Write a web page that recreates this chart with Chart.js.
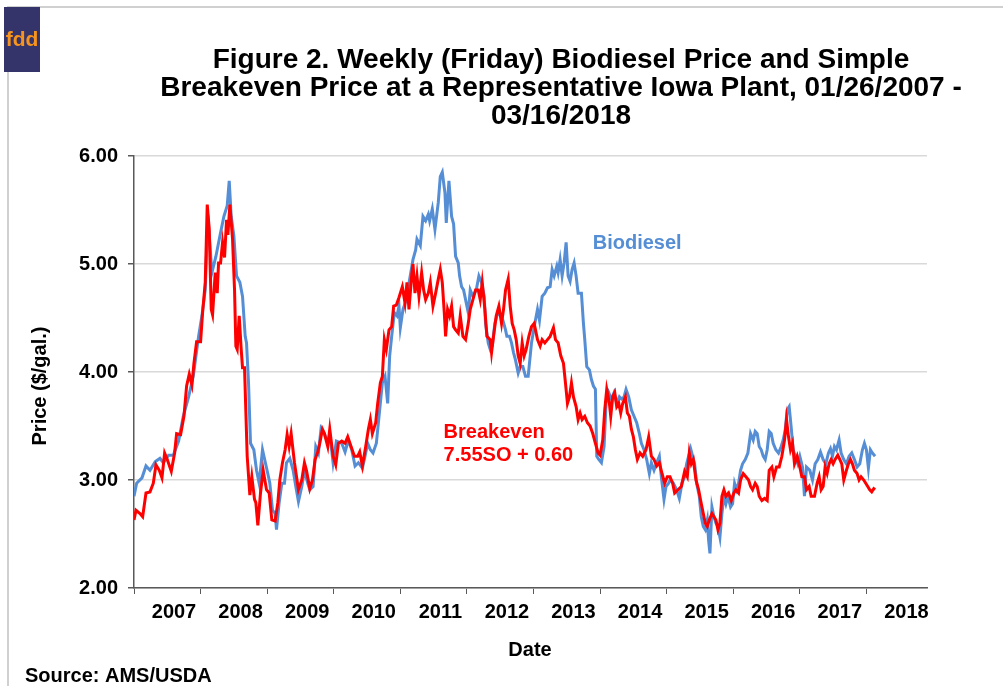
<!DOCTYPE html>
<html>
<head>
<meta charset="utf-8">
<script src="https://cdn.jsdelivr.net/npm/chart.js@4.4.1/dist/chart.umd.min.js"></script>
<style>
  html, body { margin: 0; padding: 0; background: #ffffff; }
  #wrap { width: 1003px; height: 686px; }
</style>
</head>
<body>
<div id="wrap"><canvas id="priceChart" width="1003" height="686"></canvas></div>
<script>
// Dates are decimal years (first obs 01/26/2007, last 03/16/2018)
const bioDates = [
  2007.07, 2007.11, 2007.19, 2007.25, 2007.31, 2007.39, 2007.46, 2007.51, 2007.59, 2007.66,
  2007.74, 2007.81, 2007.89, 2007.96, 2008.04, 2008.09, 2008.14, 2008.18, 2008.24, 2008.30,
  2008.36, 2008.42, 2008.47, 2008.50, 2008.53, 2008.57, 2008.61, 2008.66, 2008.70, 2008.74,
  2008.76, 2008.79, 2008.82, 2008.87, 2008.91, 2008.95, 2009.00, 2009.09, 2009.11, 2009.15,
  2009.19, 2009.21, 2009.25, 2009.29, 2009.33, 2009.36, 2009.41, 2009.46, 2009.50, 2009.54,
  2009.59, 2009.63, 2009.68, 2009.71, 2009.76, 2009.80, 2009.84, 2009.88, 2009.93, 2009.98,
  2010.01, 2010.06, 2010.11, 2010.19, 2010.24, 2010.29, 2010.34, 2010.39, 2010.44, 2010.50,
  2010.54, 2010.58, 2010.62, 2010.66, 2010.71, 2010.75, 2010.80, 2010.84, 2010.88, 2010.91,
  2010.94, 2010.98, 2011.02, 2011.05, 2011.07, 2011.11, 2011.16, 2011.21, 2011.26, 2011.30,
  2011.32, 2011.37, 2011.41, 2011.45, 2011.49, 2011.51, 2011.55, 2011.59, 2011.64, 2011.67,
  2011.70, 2011.74, 2011.76, 2011.80, 2011.84, 2011.87, 2011.90, 2011.94, 2011.96, 2011.99,
  2012.02, 2012.06, 2012.09, 2012.12, 2012.16, 2012.21, 2012.25, 2012.29, 2012.33, 2012.35,
  2012.39, 2012.42, 2012.45, 2012.49, 2012.52, 2012.56, 2012.61, 2012.65, 2012.67, 2012.71,
  2012.74, 2012.77, 2012.80, 2012.84, 2012.87, 2012.91, 2012.95, 2012.99, 2013.04, 2013.09,
  2013.13, 2013.16, 2013.20, 2013.24, 2013.28, 2013.32, 2013.35, 2013.38, 2013.42, 2013.44,
  2013.47, 2013.50, 2013.53, 2013.56, 2013.59, 2013.62, 2013.65, 2013.68, 2013.71, 2013.74,
  2013.79, 2013.82, 2013.84, 2013.87, 2013.91, 2013.94, 2013.97, 2014.00, 2014.02, 2014.05,
  2014.09, 2014.13, 2014.16, 2014.20, 2014.24, 2014.28, 2014.32, 2014.36, 2014.39, 2014.43,
  2014.46, 2014.50, 2014.54, 2014.58, 2014.62, 2014.66, 2014.69, 2014.73, 2014.77, 2014.81,
  2014.84, 2014.88, 2014.92, 2014.96, 2014.99, 2015.03, 2015.06, 2015.10, 2015.12, 2015.17,
  2015.22, 2015.26, 2015.30, 2015.34, 2015.37, 2015.40, 2015.43, 2015.46, 2015.49, 2015.52,
  2015.56, 2015.59, 2015.62, 2015.65, 2015.68, 2015.70, 2015.72, 2015.75, 2015.78, 2015.81,
  2015.84, 2015.87, 2015.90, 2015.93, 2015.96, 2015.99, 2016.03, 2016.06, 2016.09, 2016.12,
  2016.15, 2016.18, 2016.21, 2016.25, 2016.29, 2016.33, 2016.37, 2016.40, 2016.43, 2016.46,
  2016.49, 2016.52, 2016.55, 2016.58, 2016.61, 2016.64, 2016.67, 2016.71, 2016.75, 2016.79,
  2016.82, 2016.85, 2016.88, 2016.91, 2016.94, 2016.97, 2017.00, 2017.04, 2017.07, 2017.11,
  2017.14, 2017.17, 2017.22, 2017.26, 2017.30, 2017.34, 2017.38, 2017.42, 2017.46, 2017.50,
  2017.53, 2017.56, 2017.59, 2017.62, 2017.66, 2017.69, 2017.73, 2017.77, 2017.81, 2017.85,
  2017.89, 2017.93, 2017.97, 2018.01, 2018.04, 2018.07, 2018.10, 2018.13, 2018.16, 2018.20
];
const bioPrices = [
  2.85, 2.97, 3.02, 3.13, 3.09, 3.17, 3.20, 3.16, 3.23, 3.23,
  3.36, 3.59, 3.77, 3.96, 4.33, 4.52, 4.76, 5.45, 4.92, 5.07,
  5.26, 5.44, 5.54, 5.77, 5.44, 5.26, 4.89, 4.83, 4.70, 4.33,
  4.27, 3.90, 3.34, 3.28, 3.09, 2.97, 3.28, 3.03, 2.97, 2.72,
  2.69, 2.54, 2.79, 2.97, 2.97, 3.16, 3.20, 3.09, 2.94, 2.80,
  2.94, 3.09, 2.97, 2.91, 2.94, 3.31, 3.25, 3.48, 3.43, 3.34,
  3.43, 3.16, 3.36, 3.34, 3.26, 3.37, 3.28, 3.13, 3.16, 3.11,
  3.22, 3.34, 3.28, 3.25, 3.34, 3.59, 3.90, 3.96, 3.71, 4.15,
  4.33, 4.55, 4.52, 4.61, 4.41, 4.58, 4.67, 4.86, 5.04, 5.13,
  5.23, 5.17, 5.44, 5.40, 5.46, 5.40, 5.51, 5.32, 5.57, 5.81,
  5.85, 5.66, 5.38, 5.77, 5.44, 5.37, 5.07, 5.01, 4.89, 4.79,
  4.76, 4.64, 4.55, 4.76, 4.70, 4.76, 4.89, 4.83, 4.70, 4.45,
  4.27, 4.21, 4.24, 4.45, 4.52, 4.55, 4.48, 4.39, 4.33, 4.33,
  4.27, 4.18, 4.11, 3.99, 4.05, 4.05, 3.96, 3.96, 4.27, 4.45,
  4.58, 4.48, 4.70, 4.73, 4.78, 4.79, 4.95, 4.89, 4.98, 4.92,
  5.04, 4.89, 5.01, 5.20, 4.89, 4.84, 4.95, 5.01, 4.89, 4.73,
  4.73, 4.45, 4.30, 4.05, 4.02, 3.93, 3.87, 3.84, 3.22, 3.19,
  3.16, 3.31, 3.71, 3.81, 3.75, 3.81, 3.71, 3.77, 3.75, 3.77,
  3.84, 3.77, 3.65, 3.59, 3.53, 3.43, 3.34, 3.28, 3.19, 3.06,
  3.16, 3.09, 3.16, 3.22, 3.03, 2.82, 2.94, 2.97, 3.00, 2.97,
  2.91, 2.83, 2.97, 3.03, 3.15, 3.22, 3.29, 3.22, 3.15, 2.97,
  2.85, 2.66, 2.57, 2.54, 2.63, 2.44, 2.32, 2.75, 2.66, 2.60,
  2.57, 2.47, 2.69, 2.85, 2.78, 2.85, 2.75, 2.78, 2.97, 2.91,
  2.97, 3.09, 3.15, 3.19, 3.25, 3.43, 3.37, 3.45, 3.43, 3.31,
  3.28, 3.22, 3.19, 3.28, 3.45, 3.43, 3.34, 3.28, 3.25, 3.31,
  3.37, 3.46, 3.65, 3.68, 3.49, 3.28, 3.22, 3.15, 3.22, 3.12,
  2.85, 3.12, 3.09, 3.00, 3.15, 3.19, 3.26, 3.19, 3.15, 3.25,
  3.29, 3.22, 3.31, 3.28, 3.37, 3.25, 3.19, 3.15, 3.22, 3.25,
  3.19, 3.12, 3.15, 3.28, 3.34, 3.28, 3.11, 3.28, 3.25, 3.22
];
const bevDates = [
  2007.07, 2007.10, 2007.16, 2007.20, 2007.25, 2007.31, 2007.36, 2007.40, 2007.45, 2007.49,
  2007.53, 2007.57, 2007.63, 2007.68, 2007.71, 2007.77, 2007.82, 2007.86, 2007.90, 2007.94,
  2007.97, 2008.01, 2008.07, 2008.10, 2008.14, 2008.17, 2008.20, 2008.23, 2008.25, 2008.29,
  2008.32, 2008.34, 2008.37, 2008.40, 2008.43, 2008.46, 2008.48, 2008.51, 2008.55, 2008.58,
  2008.60, 2008.62, 2008.65, 2008.68, 2008.70, 2008.73, 2008.77, 2008.81, 2008.84, 2008.88,
  2008.90, 2008.93, 2008.97, 2009.01, 2009.06, 2009.10, 2009.14, 2009.19, 2009.23, 2009.26,
  2009.30, 2009.34, 2009.37, 2009.40, 2009.43, 2009.48, 2009.54, 2009.59, 2009.63, 2009.66,
  2009.71, 2009.75, 2009.79, 2009.83, 2009.86, 2009.90, 2009.93, 2009.98, 2010.01, 2010.06,
  2010.10, 2010.14, 2010.19, 2010.24, 2010.28, 2010.33, 2010.38, 2010.43, 2010.46, 2010.50,
  2010.55, 2010.59, 2010.62, 2010.65, 2010.70, 2010.73, 2010.77, 2010.80, 2010.83, 2010.86,
  2010.90, 2010.94, 2010.97, 2011.01, 2011.05, 2011.10, 2011.14, 2011.17, 2011.20, 2011.24,
  2011.26, 2011.29, 2011.32, 2011.35, 2011.39, 2011.42, 2011.45, 2011.49, 2011.52, 2011.56,
  2011.60, 2011.64, 2011.67, 2011.70, 2011.73, 2011.75, 2011.78, 2011.81, 2011.84, 2011.87,
  2011.90, 2011.94, 2011.97, 2012.01, 2012.05, 2012.09, 2012.12, 2012.16, 2012.20, 2012.24,
  2012.27, 2012.30, 2012.34, 2012.37, 2012.42, 2012.44, 2012.47, 2012.51, 2012.55, 2012.59,
  2012.62, 2012.65, 2012.69, 2012.72, 2012.75, 2012.78, 2012.81, 2012.84, 2012.87, 2012.90,
  2012.93, 2012.96, 2013.00, 2013.04, 2013.08, 2013.13, 2013.17, 2013.20, 2013.24, 2013.28,
  2013.32, 2013.37, 2013.40, 2013.44, 2013.48, 2013.52, 2013.55, 2013.58, 2013.61, 2013.64,
  2013.67, 2013.71, 2013.74, 2013.77, 2013.80, 2013.84, 2013.88, 2013.92, 2013.96, 2014.00,
  2014.04, 2014.07, 2014.11, 2014.14, 2014.17, 2014.21, 2014.23, 2014.26, 2014.29, 2014.32,
  2014.35, 2014.38, 2014.41, 2014.45, 2014.48, 2014.51, 2014.54, 2014.57, 2014.60, 2014.63,
  2014.67, 2014.71, 2014.76, 2014.80, 2014.84, 2014.88, 2014.92, 2014.96, 2015.00, 2015.04,
  2015.08, 2015.12, 2015.16, 2015.19, 2015.24, 2015.29, 2015.34, 2015.38, 2015.41, 2015.44,
  2015.47, 2015.51, 2015.55, 2015.59, 2015.62, 2015.65, 2015.68, 2015.71, 2015.75, 2015.78,
  2015.81, 2015.84, 2015.87, 2015.90, 2015.93, 2015.96, 2016.00, 2016.04, 2016.08, 2016.11,
  2016.15, 2016.18, 2016.22, 2016.26, 2016.30, 2016.33, 2016.36, 2016.40, 2016.43, 2016.46,
  2016.50, 2016.54, 2016.58, 2016.61, 2016.65, 2016.68, 2016.72, 2016.76, 2016.80, 2016.84,
  2016.87, 2016.90, 2016.93, 2016.96, 2016.99, 2017.03, 2017.07, 2017.10, 2017.14, 2017.17,
  2017.21, 2017.24, 2017.29, 2017.33, 2017.36, 2017.39, 2017.42, 2017.45, 2017.48, 2017.51,
  2017.54, 2017.57, 2017.60, 2017.64, 2017.67, 2017.70, 2017.73, 2017.77, 2017.80, 2017.83,
  2017.86, 2017.89, 2017.93, 2017.96, 2017.99, 2018.03, 2018.06, 2018.09, 2018.12, 2018.15,
  2018.18, 2018.20
];
const bevPrices = [
  2.63, 2.72, 2.69, 2.66, 2.88, 2.89, 2.97, 3.14, 3.09, 3.02,
  3.25, 3.19, 3.08, 3.25, 3.43, 3.42, 3.59, 3.87, 3.98, 3.88,
  4.08, 4.28, 4.28, 4.55, 4.83, 5.55, 5.32, 4.58, 4.53, 4.92,
  4.73, 5.01, 5.01, 5.20, 5.06, 5.41, 5.27, 5.55, 5.23, 4.76,
  4.24, 4.21, 4.52, 4.21, 4.04, 4.04, 3.22, 2.86, 3.03, 2.82,
  2.79, 2.58, 2.88, 3.09, 2.91, 2.88, 2.63, 2.62, 2.79, 3.00,
  3.16, 3.28, 3.42, 3.31, 3.43, 3.16, 2.91, 3.00, 3.16, 3.09,
  2.92, 3.00, 3.19, 3.26, 3.34, 3.47, 3.43, 3.31, 3.47, 3.22,
  3.14, 3.34, 3.36, 3.34, 3.40, 3.31, 3.22, 3.22, 3.26, 3.13,
  3.31, 3.47, 3.56, 3.43, 3.53, 3.71, 3.90, 3.96, 4.30, 4.21,
  4.39, 4.42, 4.61, 4.62, 4.69, 4.79, 4.64, 4.83, 4.58, 4.89,
  5.00, 4.73, 4.89, 4.70, 4.92, 4.76, 4.67, 4.73, 4.83, 4.61,
  4.73, 4.86, 4.95, 4.83, 4.55, 4.33, 4.58, 4.52, 4.61, 4.42,
  4.39, 4.36, 4.52, 4.33, 4.30, 4.45, 4.58, 4.67, 4.76, 4.76,
  4.67, 4.83, 4.58, 4.33, 4.30, 4.18, 4.33, 4.52, 4.61, 4.45,
  4.58, 4.76, 4.86, 4.61, 4.45, 4.39, 4.30, 4.15, 4.08, 4.27,
  4.15, 4.21, 4.33, 4.42, 4.45, 4.30, 4.24, 4.30, 4.27, 4.30,
  4.33, 4.41, 4.30, 4.27, 4.15, 4.08, 3.90, 3.71, 3.77, 3.90,
  3.77, 3.68, 3.56, 3.62, 3.56, 3.59, 3.53, 3.50, 3.43, 3.34,
  3.25, 3.23, 3.37, 3.65, 3.84, 3.71, 3.59, 3.77, 3.81, 3.68,
  3.71, 3.62, 3.71, 3.77, 3.62, 3.59, 3.47, 3.40, 3.28, 3.19,
  3.25, 3.22, 3.28, 3.40, 3.22, 3.19, 3.13, 3.16, 3.06, 2.97,
  3.03, 3.03, 2.97, 2.88, 2.91, 2.94, 3.08, 3.03, 3.25, 3.15,
  3.19, 3.00, 2.91, 2.78, 2.69, 2.60, 2.57, 2.63, 2.69, 2.66,
  2.63, 2.54, 2.60, 2.85, 2.91, 2.85, 2.88, 2.81, 2.88, 2.91,
  2.88, 3.00, 3.06, 3.03, 3.00, 2.94, 2.91, 2.97, 2.94, 2.85,
  2.81, 2.83, 2.81, 3.09, 3.12, 3.03, 3.12, 3.12, 3.22, 3.37,
  3.56, 3.40, 3.28, 3.34, 3.15, 3.22, 3.12, 3.03, 3.03, 2.91,
  2.94, 2.85, 2.85, 2.97, 3.03, 2.91, 2.94, 3.12, 3.06, 3.15,
  3.19, 3.15, 3.19, 3.23, 3.19, 3.15, 3.00, 3.09, 3.15, 3.19,
  3.15, 3.09, 3.06, 3.00, 3.03, 3.00, 2.97, 2.94, 2.91, 2.89,
  2.92, 2.91
];

// axis setup
const yearLabels = ["2007", "2008", "2009", "2010", "2011", "2012", "2013", "2014", "2015", "2016", "2017", "2018"];
const firstTick = 2007.07; // ticks sit every 52 weeks from the first observation
const yTicks = [2, 3, 4, 5, 6];

const titleLines = [
  "Figure 2. Weekly (Friday) Biodiesel Price and Simple",
  "Breakeven Price at a Representative Iowa Plant, 01/26/2007 -",
  "03/16/2018"
];

const BLUE = "#558ED5";
const RED = "#FF0000";
const FONT = "'Liberation Sans', Arial, sans-serif";

function toPoints(xs, ys) {
  return xs.map((x, i) => ({ x: x, y: ys[i] }));
}

// all the extra text drawn straight onto the canvas
const figureText = {
  id: "figureText",
  beforeDraw(chart) {
    const ctx = chart.ctx;
    ctx.save();
    ctx.fillStyle = "#ffffff";
    ctx.fillRect(0, 0, chart.width, chart.height);
    ctx.restore();
  },
  afterDraw(chart) {
    const ctx = chart.ctx;
    const xs = chart.scales.x;
    const ys = chart.scales.y;
    ctx.save();

    // outer frame
    ctx.strokeStyle = "#d0d0d0";
    ctx.lineWidth = 2;
    ctx.beginPath();
    ctx.moveTo(8, 700);
    ctx.lineTo(8, 7);
    ctx.lineTo(1010, 7);
    ctx.stroke();

    // fdd logo
    ctx.fillStyle = "#34336A";
    ctx.fillRect(4, 7, 36, 65);
    ctx.fillStyle = "#F7941D";
    ctx.font = "bold 21px " + FONT;
    ctx.textAlign = "center";
    ctx.textBaseline = "middle";
    ctx.fillText("fdd", 22, 40);

    // title
    ctx.fillStyle = "#000000";
    ctx.font = "bold 28px " + FONT;
    titleLines.forEach((t, i) => ctx.fillText(t, 561, 60 + i * 28));

    // axis titles
    ctx.font = "bold 20px " + FONT;
    ctx.fillText("Date", 530, 650);
    ctx.save();
    ctx.translate(40, 386);
    ctx.rotate(-Math.PI / 2);
    ctx.fillText("Price ($/gal.)", 0, 0);
    ctx.restore();

    // source
    ctx.textAlign = "left";
    ctx.fillText("Source: AMS/USDA", 25, 676);

    // series labels, placed in data units
    ctx.fillStyle = BLUE;
    ctx.fillText("Biodiesel", xs.getPixelForValue(2013.96), ys.getPixelForValue(5.19));
    ctx.fillStyle = RED;
    ctx.fillText("Breakeven", xs.getPixelForValue(2011.72), ys.getPixelForValue(3.44));
    ctx.fillText("7.55SO + 0.60", xs.getPixelForValue(2011.72), ys.getPixelForValue(3.23));

    ctx.restore();
  }
};

const ctx = document.getElementById("priceChart").getContext("2d");

new Chart(ctx, {
  type: "line",
  data: {
    datasets: [
      {
        label: "Breakeven",
        data: toPoints(bevDates, bevPrices),
        borderColor: RED,
        borderWidth: 3,
        pointRadius: 0,
        tension: 0,
        order: 1
      },
      {
        label: "Biodiesel",
        data: toPoints(bioDates, bioPrices),
        borderColor: BLUE,
        borderWidth: 3,
        pointRadius: 0,
        tension: 0,
        order: 2
      }
    ]
  },
  options: {
    responsive: false,
    animation: false,
    devicePixelRatio: 1,
    layout: { padding: { top: 156, right: 76, bottom: 0, left: 0 } },
    plugins: {
      legend: { display: false },
      tooltip: { enabled: false }
    },
    scales: {
      x: {
        type: "linear",
        min: firstTick,
        max: 2018.98,
        afterBuildTicks: s => { s.ticks = yearLabels.map((l, i) => ({ value: firstTick + i })); },
        afterFit: s => { s.height = 98; },
        ticks: {
          callback: (v, i) => yearLabels[i],
          labelOffset: 40,
          padding: 6,
          maxRotation: 0,
          autoSkip: false,
          color: "#000000",
          font: { family: FONT, size: 20, weight: "bold" }
        },
        grid: { drawOnChartArea: false, drawTicks: true, tickLength: 6, tickColor: "#595959" },
        border: { color: "#595959", width: 1.5 }
      },
      y: {
        min: 2,
        max: 6,
        afterBuildTicks: s => { s.ticks = yTicks.map(v => ({ value: v })); },
        afterFit: s => { s.width = 134; },
        ticks: {
          callback: v => v.toFixed(2),
          padding: 10,
          color: "#000000",
          font: { family: FONT, size: 20, weight: "bold" }
        },
        grid: { color: "#d9d9d9", lineWidth: 1.5, tickLength: 6, tickColor: "#595959" },
        border: { color: "#595959", width: 1.5 }
      }
    }
  },
  plugins: [figureText]
});
</script>
</body>
</html>
